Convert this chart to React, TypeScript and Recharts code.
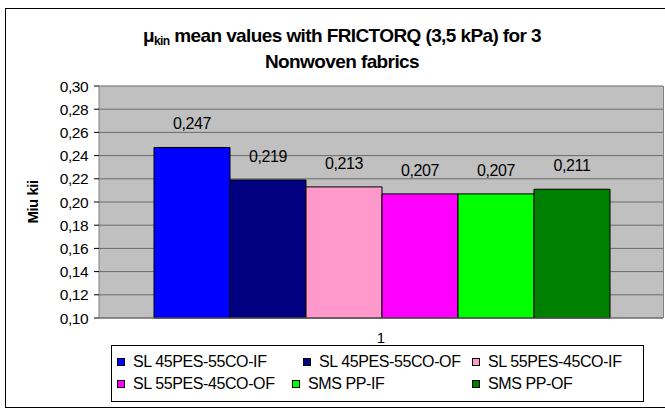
import { BarChart, Bar, XAxis, YAxis, CartesianGrid, LabelList } from 'recharts';

const categories = ['1'];
const seriesNames = [
  'SL 45PES-55CO-IF',
  'SL 45PES-55CO-OF',
  'SL 55PES-45CO-IF',
  'SL 55PES-45CO-OF',
  'SMS PP-IF',
  'SMS PP-OF',
];
const seriesValues = [[0.247], [0.219], [0.213], [0.207], [0.207], [0.211]];
const seriesColors = ['#0000FF', '#000080', '#FF99CC', '#FF00FF', '#00FF00', '#008000'];
const yTicks = [0.1, 0.12, 0.14, 0.16, 0.18, 0.2, 0.22, 0.24, 0.26, 0.28, 0.3];

const data = categories.map((name, i) => {
  const row: any = { name };
  seriesNames.forEach((_, j) => {
    row[`s${j}`] = seriesValues[j][i];
  });
  return row;
});

// legend item placement (Excel packs the rows unevenly)
const legendPos = [
  { left: 5, top: 16 },
  { left: 191, top: 16 },
  { left: 360, top: 16 },
  { left: 5, top: 38 },
  { left: 180, top: 38 },
  { left: 360, top: 38 },
];

const font = '"Liberation Sans", Arial, sans-serif';
const comma = (v: number, d: number) => v.toFixed(d).replace('.', ',');

export default function App() {
  return (
    <div style={{ position: 'absolute', left: 0, top: 0, width: 665, height: 410, fontFamily: font, overflow: 'hidden', background: '#fff' }}>
      <div
        style={{
          position: 'absolute',
          left: 5,
          top: 8,
          width: 700,
          height: 398,
          borderLeft: '1px solid #000',
          borderTop: '1px solid #000',
          borderBottom: '1px solid #000',
        }}
      />
      <div
        style={{
          position: 'absolute',
          left: 0,
          width: 684,
          top: 23,
          textAlign: 'center',
          fontWeight: 'bold',
          fontSize: 19,
          lineHeight: '26px',
          letterSpacing: -0.6,
        }}
      >
        <div>
          μ<sub style={{ fontSize: 12, verticalAlign: -3, lineHeight: 0 }}>kin</sub> mean values with FRICTORQ (3,5 kPa) for 3
        </div>
        <div>Nonwoven fabrics</div>
      </div>

      <div style={{ position: 'absolute', left: 0, top: 0 }}>
        <BarChart
          width={665}
          height={410}
          data={data}
          margin={{ top: 86, right: 2, left: 0, bottom: 62 }}
          barCategoryGap={55}
          barGap={0}
        >
          <CartesianGrid vertical={false} fill="#C0C0C0" fillOpacity={1} stroke="#6a6a6a" />
          <XAxis
            dataKey="name"
            height={30}
            tickLine={false}
            tickMargin={8}
            axisLine={{ stroke: '#6a6a6a' }}
            tick={{ fill: '#000', fontSize: 15, fontFamily: font }}
          />
          <YAxis
            type="number"
            width={99}
            domain={[0.1, 0.3]}
            ticks={yTicks}
            interval={0}
            tickFormatter={(v: number) => comma(v, 2)}
            tickSize={5}
            tickMargin={6}
            axisLine={{ stroke: '#808080' }}
            tickLine={{ stroke: '#000' }}
            tick={{ fill: '#000', fontSize: 15.5, fontFamily: font, letterSpacing: -0.5 }}
            label={{
              content: (p: any) => {
                const cy = p.viewBox.y + p.viewBox.height / 2;
                return (
                  <text
                    x={32}
                    y={cy}
                    transform={`rotate(-90 32 ${cy})`}
                    textAnchor="middle"
                    dominantBaseline="central"
                    fontSize={15}
                    fontWeight="bold"
                    fontFamily={font}
                    letterSpacing={-0.5}
                    fill="#000"
                  >
                    Miu kii
                  </text>
                );
              },
            }}
          />
          {seriesNames.map((n, j) => (
            <Bar key={n} dataKey={`s${j}`} name={n} fill={seriesColors[j]} stroke="#000" strokeWidth={1} isAnimationActive={false}>
              <LabelList
                dataKey={`s${j}`}
                position="top"
                offset={18}
                formatter={(v: any) => comma(Number(v), 3)}
                fill="#000"
                fontSize={16}
                fontFamily={font}
                letterSpacing={-0.4}
              />
            </Bar>
          ))}
        </BarChart>
      </div>

      <div style={{ position: 'absolute', left: 663, top: 86, width: 1, height: 232, background: '#808080' }} />

      <div
        style={{
          position: 'absolute',
          left: 111,
          top: 345,
          width: 531,
          height: 55,
          border: '1px solid #000',
          background: '#fff',
          fontSize: 16,
          letterSpacing: -0.4,
        }}
      >
        {seriesNames.map((n, j) => (
          <div
            key={n}
            style={{ position: 'absolute', left: legendPos[j].left, top: legendPos[j].top - 9, display: 'flex', alignItems: 'center', whiteSpace: 'nowrap', lineHeight: '18px' }}
          >
            <span style={{ display: 'inline-block', width: 6, height: 6, background: seriesColors[j], border: '1px solid #000', marginRight: 8 }} />
            {n}
          </div>
        ))}
      </div>
    </div>
  );
}
